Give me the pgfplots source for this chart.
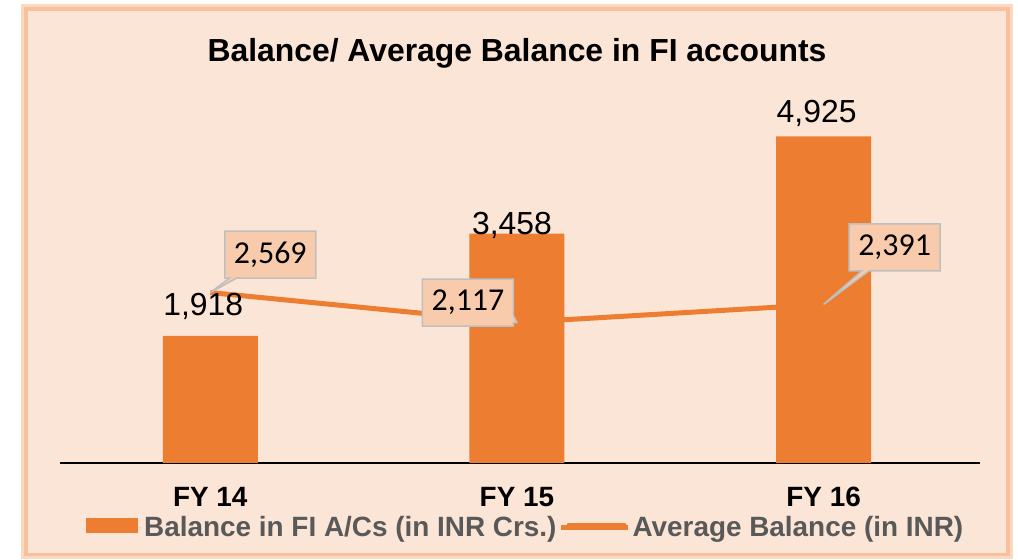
\documentclass[border=0pt]{standalone}
\usepackage{pgfplots}
\pgfplotsset{compat=1.18}
\usepackage{fontspec}
\setmainfont{Liberation Sans}
\newfontfamily\calibri{Carlito}
\usetikzlibrary{shapes.callouts}
\definecolor{bg}{HTML}{FBE5D6}
\definecolor{barc}{HTML}{ED7D31}
\definecolor{callfill}{HTML}{F8CBAD}
\definecolor{callborder}{HTML}{BFBFBF}
\definecolor{frameA}{HTML}{F4B183}
\definecolor{frameB}{HTML}{FAD9C0}
\definecolor{legtext}{HTML}{595959}
\begin{document}
\begin{tikzpicture}[x=1bp,y=1bp]
\path[use as bounding box] (0,0) rectangle (1018,560);
\fill[frameB] (21,1) rectangle (1013,556);
\fill[frameA!80!white] (24,4) rectangle (1010,553);
\fill[bg] (28,7) rectangle (1006,549);
\node[font=\fontsize{32}{32}\selectfont\bfseries, anchor=base] at (517,498) {Balance/ Average Balance in FI accounts};
\begin{axis}[
  at={(60bp,97bp)}, anchor=south west,
  scale only axis, width=920bp, height=398bp,
  xmin=-0.49, xmax=2.51, ymin=0, ymax=6000,
  hide y axis,
  axis x line*=bottom,
  x axis line style={line width=1.3bp, black, -},
  xtick={0,1,2}, xticklabels={FY 14, FY 15, FY 16},
  major tick length=0pt,
  xticklabel style={font=\fontsize{28}{28}\selectfont\bfseries, anchor=base, yshift=-44bp},
  clip=false,
  legend columns=2,
  legend style={at={(axis description cs:0.0283,-0.161)}, anchor=west,
    draw=none, fill=none, inner sep=0pt,
    font=\fontsize{28}{28}\selectfont\bfseries\color{legtext},
    /tikz/every even column/.append style={column sep=0bp}},
  legend cell align=left,
]
\addplot[ybar, bar width=95bp, fill=barc, draw=none,
  legend image code/.code={\fill[barc] (0bp,-5.5bp) rectangle (52bp,9.5bp); \path (0bp,0bp) -- (56bp,0bp);}]
  coordinates {(0,1918) (1,3458) (2,4925)};
\addplot[barc, line width=5bp, mark=none,
  legend image code/.code={\path (0bp,0bp) -- (1bp,0bp); \draw[barc, line width=5bp, line cap=round] (8bp,2bp) -- (63bp,2bp); \path (0bp,0bp) -- (67bp,0bp);}]
  coordinates {(0,2569) (1,2117) (2,2391)};
\legend{Balance in FI A/Cs (in INR Crs.), Average Balance (in INR)}
\node[font=\fontsize{32}{32}\selectfont, anchor=base] at ([xshift=-7bp,yshift=20bp]axis cs:0,1918) {1,918};
\node[font=\fontsize{32}{32}\selectfont, anchor=base] at ([xshift=-5bp,yshift=-1bp]axis cs:1,3458) {3,458};
\node[font=\fontsize{32}{32}\selectfont, anchor=base] at ([xshift=-7bp,yshift=14bp]axis cs:2,4925) {4,925};
\node[rectangle callout, fill=callfill, draw=callborder, line width=1.5bp,
  font=\calibri\fontsize{32}{32}\selectfont, inner sep=0pt, minimum width=91bp, minimum height=47bp,
  callout absolute pointer={(axis cs:0,2569)}] at ([xshift=60bp,yshift=38bp]axis cs:0,2569) {2,569};
\node[rectangle callout, fill=callfill, draw=callborder, line width=1.5bp,
  font=\calibri\fontsize{32}{32}\selectfont, inner sep=0pt, minimum width=91bp, minimum height=47bp,
  callout absolute pointer={(axis cs:1,2117)}] at ([xshift=-49bp,yshift=20bp]axis cs:1,2117) {2,117};
\node[rectangle callout, fill=callfill, draw=callborder, line width=1.5bp,
  font=\calibri\fontsize{32}{32}\selectfont, inner sep=0pt, minimum width=91bp, minimum height=47bp,
  callout absolute pointer={(axis cs:2,2391)}] at ([xshift=71bp,yshift=57bp]axis cs:2,2391) {2,391};
\end{axis}
\end{tikzpicture}
\end{document}
